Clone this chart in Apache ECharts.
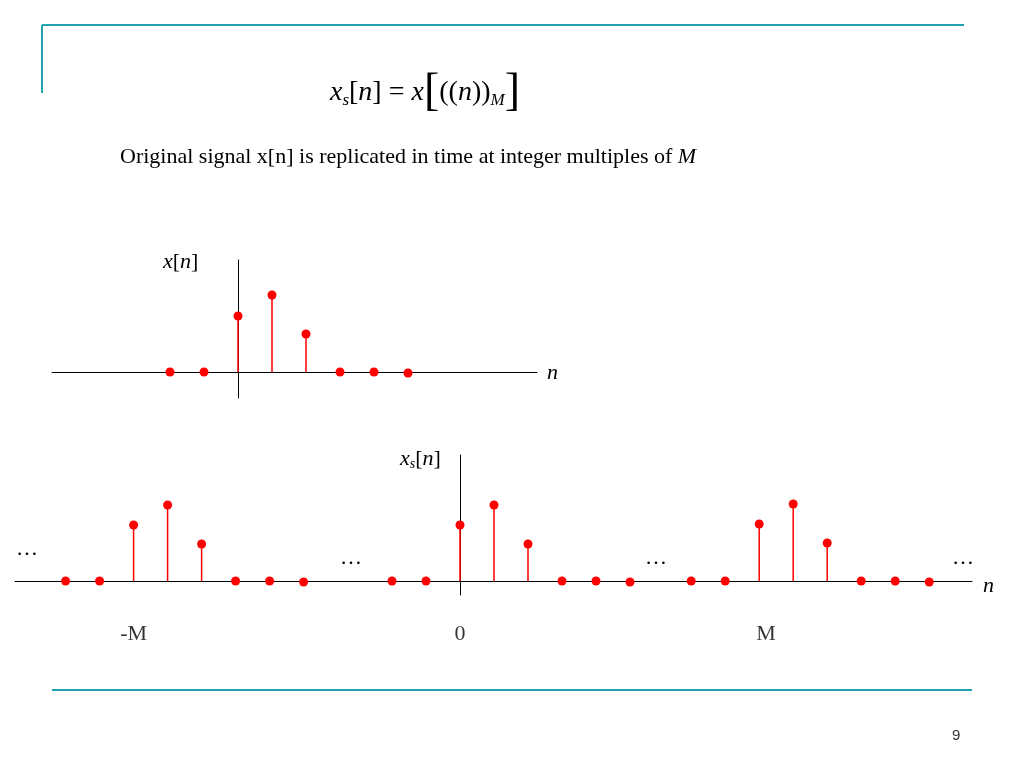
<!DOCTYPE html>
<html><head><meta charset="utf-8">
<script src="https://cdn.jsdelivr.net/npm/echarts@6/dist/echarts.min.js"></script>
<style>html,body{margin:0;padding:0;background:#fff}#c{width:1024px;height:768px}</style>
</head><body><div id="c"></div>
<script>
// top signal x[n]: sample index and height
const topN = [-2, -1, 0, 1, 2, 3, 4, 5];
const topV = [0, 0, 56, 77, 38, 0, 0, -1];
// replicated signal xs[n]
const botN = [-11.6, -10.6, -9.6, -8.6, -7.6, -6.6, -5.6, -4.6,
              -2, -1, 0, 1, 2, 3, 4, 5,
              6.8, 7.8, 8.8, 9.8, 10.8, 11.8, 12.8, 13.8];
const botV = [0, 0, 56, 76, 37, 0, 0, -1,
              0, 0, 56, 76, 37, 0, 0, -1,
              0, 0, 57, 77, 38, 0, 0, -1];
const tickLabels = [{n: -9.6, t: '-M'}, {n: 0, t: '0'}, {n: 9.0, t: 'M'}];

const red = '#ff0000';
function pairs(n, v){ return n.map((x,i)=>[x, v[i]]); }
function stems(idx, data){
  return {type:'custom', xAxisIndex:idx, yAxisIndex:idx, data:data,
    renderItem:(p, api)=>{
      const a = api.coord([api.value(0), 0]), b = api.coord([api.value(0), api.value(1)]);
      return {type:'line', shape:{x1:a[0],y1:a[1],x2:b[0],y2:b[1]}, style:{stroke:red, lineWidth:1.5}};
    }, z:2};
}
function dots(idx, data){
  return {type:'scatter', xAxisIndex:idx, yAxisIndex:idx, data:data, symbolSize:9,
    itemStyle:{color:red, opacity:1}, z:3};
}
const axLine = {show:true, onZero:true, lineStyle:{color:'#000', width:1}};
const chart = echarts.init(document.getElementById('c'));
chart.setOption({
  animation:false,
  grid:[{left:52, width:485, top:260, height:138},
        {left:15, width:957, top:455, height:140}],
  xAxis:[
    {type:'value', gridIndex:0, min:-186/34, max:299/34, axisLine:axLine, axisTick:{show:false}, axisLabel:{show:false}, splitLine:{show:false}},
    {type:'value', gridIndex:1, min:-445/34, max:512/34, axisLine:axLine, axisTick:{show:false}, axisLabel:{show:false}, splitLine:{show:false}}
  ],
  yAxis:[
    {type:'value', gridIndex:0, min:-26, max:112, axisLine:axLine, axisTick:{show:false}, axisLabel:{show:false}, splitLine:{show:false}},
    {type:'value', gridIndex:1, min:-14, max:126, axisLine:axLine, axisTick:{show:false}, axisLabel:{show:false}, splitLine:{show:false}}
  ],
  series:[
    stems(0, pairs(topN, topV)), dots(0, pairs(topN, topV)),
    stems(1, pairs(botN, botV)), dots(1, pairs(botN, botV)),
    {type:'scatter', xAxisIndex:1, yAxisIndex:1, symbolSize:0, silent:true,
     data: tickLabels.map(d=>[d.n, -14]),
     label:{show:true, position:'bottom', distance:28, fontFamily:'Liberation Serif', fontSize:22, color:'#000',
       formatter:p=>tickLabels[p.dataIndex].t}}
  ],
  graphic:[
    {type:'line', shape:{x1:42,y1:25,x2:964,y2:25}, style:{stroke:'#1fa3b0', lineWidth:2}},
    {type:'line', shape:{x1:42,y1:25,x2:42,y2:93}, style:{stroke:'#1fa3b0', lineWidth:2}},
    {type:'line', shape:{x1:52,y1:690,x2:972,y2:690}, style:{stroke:'#1fa3b0', lineWidth:2}},
    {type:'text', left:330, top:70, style:{text:'{i|x}{s|s}{n|[}{i|n}{n|] = }{i|x}{b|[}{n|((}{i|n}{n|))}{s|M}{b|]}',
      rich:{i:{fontFamily:'Liberation Serif', fontStyle:'italic', fontSize:28}, n:{fontFamily:'Liberation Serif', fontSize:28},
            s:{fontFamily:'Liberation Serif', fontStyle:'italic', fontSize:17, padding:[16,0,0,0]},
            b:{fontFamily:'Liberation Serif', fontSize:46}}}},
    {type:'text', left:120, top:146, style:{text:'Original signal x[n] is replicated in time at integer multiples of {i|M}',
      fontFamily:'Liberation Serif', fontSize:22, fill:'#000', rich:{i:{fontFamily:'Liberation Serif', fontStyle:'italic', fontSize:22}}}},
    {type:'text', left:163, top:251, style:{text:'{i|x}{n|[}{i|n}{n|]}', rich:{i:{fontFamily:'Liberation Serif', fontStyle:'italic', fontSize:22}, n:{fontFamily:'Liberation Serif', fontSize:22}}}},
    {type:'text', left:547, top:362, style:{text:'n', fontFamily:'Liberation Serif', fontStyle:'italic', fontSize:22}},
    {type:'text', left:400, top:448, style:{text:'{i|x}{s|s}{n|[}{i|n}{n|]}', rich:{i:{fontFamily:'Liberation Serif', fontStyle:'italic', fontSize:22}, n:{fontFamily:'Liberation Serif', fontSize:22}, s:{fontFamily:'Liberation Serif', fontStyle:'italic', fontSize:14, padding:[10,0,0,0]}}}},
    {type:'text', left:983, top:575, style:{text:'n', fontFamily:'Liberation Serif', fontStyle:'italic', fontSize:22}},
    {type:'text', left:16, top:538, style:{text:'…', fontFamily:'Liberation Serif', fontSize:22}},
    {type:'text', left:340, top:547, style:{text:'…', fontFamily:'Liberation Serif', fontSize:22}},
    {type:'text', left:645, top:547, style:{text:'…', fontFamily:'Liberation Serif', fontSize:22}},
    {type:'text', left:952, top:547, style:{text:'…', fontFamily:'Liberation Serif', fontSize:22}},
    {type:'text', left:952, top:728, style:{text:'9', fontFamily:'Liberation Sans', fontSize:15, fill:'#333'}}
  ]
});
</script></body></html>
